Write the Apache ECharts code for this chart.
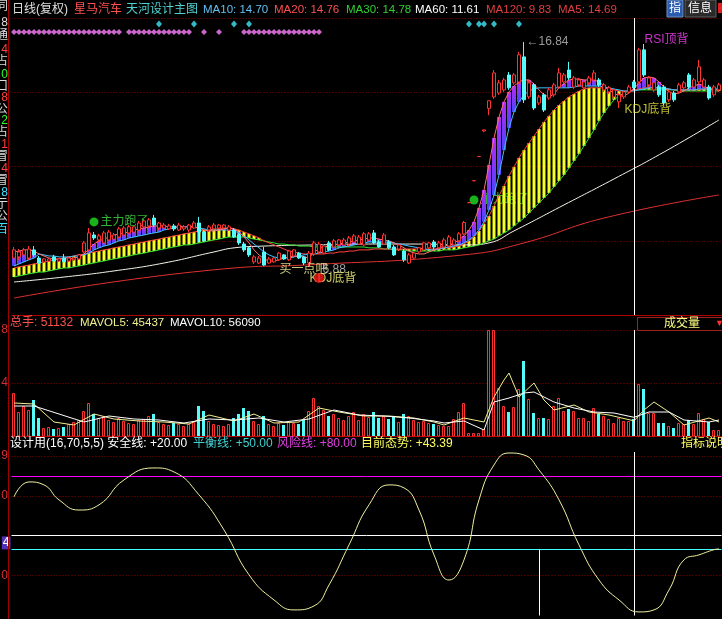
<!DOCTYPE html>
<html>
<head>
<meta charset="utf-8">
<script src="https://cdn.jsdelivr.net/npm/echarts@6/dist/echarts.min.js"></script>
<style>
html,body{margin:0;padding:0;background:#000;overflow:hidden;}
#chart{width:722px;height:619px;}
</style>
</head>
<body>
<div id="chart"></div>
<script>
// ================= DATA =================
const categories = Array.from({length: 142}, (_, i) => 'D' + (i + 1));

const openP = [7.28,7.33,7.42,7.28,7.64,7.28,7.11,7.15,7.33,7.15,
7.28,7.15,7.20,7.24,7.55,7.64,8.30,8.08,7.95,8.08,
8.12,8.21,8.30,8.39,8.43,8.52,8.66,8.70,9.05,8.61,
8.61,8.57,8.70,8.52,8.57,8.52,8.61,8.83,8.43,8.52,
8.57,8.61,8.61,8.52,8.52,8.30,7.90,7.73,7.11,7.06,
7.55,7.06,7.11,7.20,7.42,7.20,7.37,7.50,7.33,7.06,
7.46,7.55,7.50,7.95,7.77,7.86,7.86,7.90,7.99,7.90,
7.86,8.08,8.39,7.99,7.90,7.99,7.77,7.68,7.59,7.06,
7.28,7.55,7.64,7.73,7.99,7.73,7.77,7.81,7.86,8.04,
8.35,9.73,10.70,11.77,12.90,13.90,14.41,14.58,14.72,15.38,
15.03,15.07,16.18,14.41,14.94,14.14,14.50,14.36,14.50,14.85,
15.07,15.60,14.85,14.94,14.81,15.03,15.16,15.16,14.72,14.63,
14.41,14.19,14.41,14.63,15.07,15.07,16.49,14.94,14.72,14.85,
14.85,14.28,14.58,14.63,14.81,15.38,14.85,15.07,14.85,14.85,
14.50,14.72];
const closeP = [7.64,7.55,7.64,7.68,7.42,7.06,7.24,7.24,7.15,7.24,
7.11,7.28,7.28,7.42,7.95,8.39,8.17,8.26,8.39,8.43,
8.30,8.57,8.61,8.66,8.66,8.83,8.92,8.97,8.74,8.83,
8.74,8.70,8.57,8.74,8.66,8.74,8.83,8.43,8.04,8.66,
8.74,8.74,8.74,8.66,8.21,7.95,7.64,7.42,7.33,7.28,
6.97,7.24,7.28,7.50,7.24,7.59,7.64,7.28,7.06,7.50,
7.95,7.90,7.81,7.64,8.04,8.08,8.08,8.17,8.26,8.21,
8.35,8.35,7.95,7.77,8.30,7.73,7.42,7.86,7.20,7.42,
7.50,7.73,7.95,7.95,7.77,7.95,8.08,8.21,8.08,8.35,
8.85,9.73,10.70,11.77,12.95,14.24,15.47,15.03,15.16,14.81,
15.38,16.27,14.28,15.03,13.92,14.41,13.83,14.72,14.94,15.47,
15.38,15.25,15.25,15.16,15.07,15.25,15.47,14.94,14.94,14.81,
14.72,14.50,14.63,14.85,14.81,16.49,15.38,15.25,15.03,14.50,
14.14,14.63,14.28,14.94,15.03,14.85,15.16,15.74,15.16,14.36,
14.85,14.94];
const highP = [7.77,7.68,7.73,7.81,7.81,7.37,7.28,7.28,7.42,7.28,
7.46,7.33,7.33,7.46,8.04,8.61,8.43,8.35,8.48,8.52,
8.39,8.66,8.70,8.74,8.74,8.92,9.01,9.05,9.19,8.88,
8.83,8.79,8.79,8.83,8.74,8.79,8.92,9.10,8.52,8.74,
8.83,8.79,8.79,8.74,8.61,8.39,7.99,7.77,7.42,7.37,
7.77,7.33,7.33,7.55,7.46,7.64,7.68,7.55,7.37,7.59,
8.04,7.99,7.90,8.04,8.12,8.12,8.17,8.26,8.35,8.30,
8.43,8.43,8.52,8.08,8.39,8.08,7.86,7.90,7.68,7.50,
7.55,7.77,7.99,7.99,8.08,8.04,8.17,8.30,8.17,8.43,
8.92,9.73,10.70,11.77,12.95,14.24,15.60,15.16,15.25,15.51,
15.47,16.40,16.84,15.16,15.03,14.50,14.58,14.81,15.03,15.69,
15.47,15.96,15.34,15.25,15.16,15.34,15.60,15.25,15.03,14.89,
14.81,14.58,14.72,14.94,15.16,16.58,16.75,15.34,15.12,14.94,
14.94,14.72,14.67,15.03,15.12,15.47,15.25,16.05,15.25,14.94,
14.94,15.03];
const lowP = [7.11,7.20,7.33,7.20,7.33,7.02,7.06,7.11,7.06,7.11,
7.06,7.11,7.15,7.20,7.50,7.59,8.08,7.99,7.90,8.04,
8.08,8.17,8.26,8.35,8.39,8.48,8.61,8.61,8.66,8.52,
8.57,8.52,8.48,8.48,8.48,8.43,8.57,7.99,7.99,8.43,
8.52,8.57,8.57,8.48,8.17,7.86,7.55,7.33,7.02,7.02,
6.93,7.02,7.06,7.15,7.20,7.15,7.28,7.24,6.97,6.88,
7.37,7.46,7.46,7.59,7.73,7.81,7.81,7.81,7.95,7.86,
7.81,8.04,7.90,7.73,7.86,7.68,7.37,7.59,7.11,7.02,
7.24,7.50,7.59,7.68,7.68,7.68,7.73,7.77,7.81,7.99,
8.30,9.73,10.70,11.77,12.85,13.60,14.32,14.50,14.63,14.72,
14.94,14.98,14.14,14.32,13.83,14.05,13.74,14.28,14.41,14.76,
14.98,15.16,14.76,14.85,14.72,14.94,15.07,14.85,14.63,14.54,
14.32,13.92,14.32,14.54,14.72,14.98,15.29,14.85,14.63,14.41,
14.05,14.19,14.19,14.54,14.72,14.76,14.76,14.98,14.76,14.28,
14.41,14.63];

const ma5 = [7.55,7.59,7.64,7.64,7.59,7.46,7.37,7.28,7.24,7.24,
7.24,7.24,7.28,7.33,7.46,7.68,7.90,8.04,8.12,8.21,
8.30,8.35,8.39,8.43,8.52,8.57,8.61,8.66,8.70,8.70,
8.70,8.66,8.66,8.66,8.66,8.66,8.66,8.61,8.52,8.48,
8.48,8.52,8.57,8.61,8.57,8.43,8.21,7.95,7.64,7.42,
7.24,7.15,7.15,7.20,7.28,7.33,7.37,7.37,7.33,7.28,
7.55,7.68,7.77,7.81,7.86,7.90,7.95,7.99,8.04,8.08,
8.12,8.17,8.17,8.12,8.08,8.04,7.95,7.86,7.73,7.59,
7.50,7.46,7.46,7.55,7.64,7.73,7.81,7.86,7.95,8.08,
8.26,8.52,8.88,9.50,10.29,11.40,12.59,13.52,14.19,14.63,
14.89,15.07,15.16,15.16,14.98,14.72,14.50,14.41,14.54,14.81,
14.98,15.16,15.20,15.20,15.16,15.16,15.16,15.07,14.89,14.72,
14.58,14.45,14.45,14.58,14.76,15.03,15.25,15.29,15.25,15.07,
14.85,14.63,14.54,14.58,14.67,14.81,14.89,14.98,14.89,14.76,
14.72,14.72];
const ma10 = [6.93,7.02,7.11,7.20,7.28,7.46,7.42,7.37,7.37,7.33,
7.33,7.33,7.37,7.37,7.42,7.50,7.64,7.73,7.81,7.86,
7.95,8.04,8.08,8.17,8.21,8.26,8.30,8.35,8.39,8.43,
8.52,8.57,8.61,8.66,8.66,8.66,8.66,8.61,8.57,8.52,
8.52,8.52,8.52,8.52,8.48,8.39,8.26,8.08,7.90,7.73,
7.55,7.42,7.33,7.28,7.28,7.28,7.33,7.37,7.42,7.46,
7.46,7.50,7.55,7.59,7.64,7.73,7.77,7.81,7.86,7.90,
7.95,7.99,7.99,7.99,7.99,7.99,7.95,7.90,7.86,7.81,
7.77,7.73,7.68,7.64,7.64,7.68,7.73,7.77,7.81,7.86,
7.95,8.08,8.26,8.52,8.88,9.41,10.07,10.96,12.06,13.04,
13.74,14.19,14.50,14.67,14.76,14.81,14.81,14.81,14.81,14.81,
14.81,14.81,14.85,14.89,14.89,14.89,14.89,14.89,14.85,14.81,
14.76,14.72,14.67,14.67,14.67,14.72,14.76,14.81,14.81,14.81,
14.81,14.76,14.72,14.72,14.72,14.72,14.72,14.76,14.76,14.76,
14.76,14.76];
const ma20 = [6.84,6.89,6.93,6.97,7.02,7.06,7.11,7.15,7.20,7.24,
7.28,7.33,7.37,7.42,7.46,7.50,7.55,7.59,7.64,7.68,
7.73,7.77,7.81,7.86,7.90,7.95,7.99,8.04,8.08,8.12,
8.17,8.21,8.26,8.30,8.35,8.39,8.43,8.48,8.52,8.52,
8.57,8.57,8.61,8.61,8.57,8.52,8.43,8.35,8.26,8.17,
8.04,7.95,7.86,7.77,7.68,7.59,7.55,7.50,7.46,7.46,
7.46,7.46,7.46,7.50,7.50,7.55,7.55,7.59,7.59,7.64,
7.64,7.64,7.68,7.68,7.68,7.68,7.68,7.68,7.68,7.68,
7.68,7.68,7.68,7.68,7.68,7.68,7.73,7.73,7.77,7.81,
7.90,8.04,8.21,8.48,8.79,9.14,9.58,10.03,10.47,10.91,
11.31,11.71,12.06,12.37,12.68,12.99,13.30,13.57,13.83,14.05,
14.23,14.41,14.54,14.67,14.76,14.81,14.81,14.81,14.81,14.76,
14.72,14.67,14.67,14.67,14.72,14.76,14.81,14.81,14.81,14.81,
14.76,14.76,14.72,14.72,14.72,14.72,14.72,14.72,14.76,14.76,
14.76,14.76];
const ma30 = [6.44,6.49,6.53,6.58,6.62,6.66,6.66,6.71,6.75,6.80,
6.84,6.84,6.89,6.93,6.97,7.02,7.06,7.11,7.15,7.20,
7.24,7.28,7.33,7.37,7.42,7.46,7.50,7.55,7.59,7.64,
7.68,7.73,7.77,7.81,7.86,7.86,7.90,7.95,7.99,8.04,
8.08,8.12,8.17,8.21,8.21,8.21,8.21,8.17,8.12,8.08,
8.04,7.99,7.95,7.90,7.90,7.86,7.86,7.81,7.81,7.81,
7.77,7.77,7.77,7.77,7.77,7.77,7.77,7.77,7.77,7.77,
7.77,7.73,7.73,7.73,7.68,7.68,7.64,7.64,7.64,7.59,
7.59,7.59,7.59,7.59,7.59,7.59,7.64,7.64,7.64,7.68,
7.73,7.77,7.81,7.86,7.95,8.04,8.12,8.26,8.39,8.52,
8.70,8.88,9.05,9.27,9.50,9.72,9.94,10.16,10.43,10.69,
10.96,11.27,11.58,11.89,12.24,12.59,12.95,13.35,13.70,14.01,
14.28,14.45,14.58,14.67,14.72,14.72,14.72,14.72,14.72,14.72,
14.72,14.72,14.72,14.67,14.67,14.67,14.67,14.67,14.67,14.67,
14.67,14.67];
// sparse [dayIndex, value] readings
const ma60 = [[0,6.22],[10,6.44],[20,6.71],[30,7.06],[40,7.55],[44,7.73],[50,7.81],[60,7.86],[70,7.90],[80,7.90],[91,7.86],[95,7.95],[100,8.48],[110,9.63],[120,10.78],[130,11.97],[141,13.39]];
const ma120 = [[0,5.51],[44,6.84],[58,6.97],[90,7.42],[102,7.95],[118,9.05],[141,10.07]];

const volume = [129000,72000,90000,78000,108000,54000,24000,27000,21000,24000,
27000,36000,42000,48000,75000,99000,66000,54000,60000,48000,
42000,54000,45000,39000,36000,48000,51000,60000,66000,42000,
36000,33000,39000,36000,30000,36000,42000,90000,75000,45000,
36000,33000,30000,36000,54000,66000,84000,75000,45000,36000,
60000,36000,30000,39000,33000,42000,39000,36000,48000,75000,
114000,90000,78000,60000,66000,54000,48000,60000,72000,48000,
66000,57000,72000,54000,60000,51000,60000,42000,66000,60000,
48000,42000,45000,39000,36000,33000,30000,30000,51000,72000,
99000,9000,9000,9000,21000,320000,330000,144000,90000,72000,
87000,141000,225000,111000,69000,54000,54000,51000,90000,114000,
75000,81000,75000,54000,54000,45000,84000,66000,60000,51000,
39000,54000,45000,45000,51132,156000,141000,69000,69000,39000,
39000,30000,24000,39000,36000,48000,36000,69000,51000,42000,
18000,18000];
const mavol5 = [[0,99000],[4,96000],[8,42000],[12,33000],[16,66000],[20,51000],[25,45000],[30,42000],[35,36000],[39,63000],[44,45000],[48,66000],[52,39000],[57,42000],[61,84000],[65,72000],[70,60000],[75,60000],[80,54000],[84,42000],[86,33000],[90,54000],[94,42000],[96,117000],[98,168000],[99,189000],[101,117000],[104,159000],[106,108000],[108,78000],[112,93000],[115,72000],[119,63000],[124,45437],[126,78000],[128,102000],[131,72000],[134,33000],[139,54000],[141,42000]];
const mavol10 = [[0,90000],[4,90000],[9,66000],[14,42000],[19,60000],[24,51000],[29,48000],[34,39000],[39,51000],[44,48000],[49,54000],[54,42000],[59,51000],[64,78000],[69,63000],[74,60000],[79,54000],[84,45000],[86,39000],[90,45000],[94,18000],[96,102000],[99,114000],[102,129000],[104,132000],[108,102000],[112,84000],[116,72000],[120,69000],[124,56090],[127,72000],[131,72000],[134,48000],[139,42000],[141,48000]];

const osc = [[0,69.5],[3,77.0],[6,75.5],[9,68.0],[13,62.9],[17,65.5],[22,78.0],[28,84.0],[32,82.0],[37,70.5],[42,52.9],[47,30.4],[52,17.8],[56,12.8],[60,14.8],[63,25.3],[67,45.4],[71,65.5],[75,75.5],[78,74.0],[81,62.9],[84,40.4],[87,27.8],[90,37.9],[93,68.0],[96,85.5],[99,91.5],[102,90.5],[105,83.0],[109,68.0],[113,45.4],[117,27.8],[121,17.8],[125,11.8],[128,12.8],[131,22.8],[134,37.9],[137,40.4],[140,43.0],[141,43.39]];

// signal rows (day indexes)
const pinkSignals = [0,1,2,3,4,5,6,7,8,9,10,11,12,13,14,15,16,17,18,19,20,21,23,24,25,26,27,28,29,30,31,32,33,34,35,38,41,46,47,48,49,50,51,52,53,54,55,56,57,58,59,60,61];
const cyanSignals = [29,36,44,47,91,93,94,96,101];

// text annotations [dayIndex, price]
const runAwayPts = [[16, 8.88], [92, 9.85]];
const buyHintPt = [53, 6.75];
const lowPt = [59, 6.88];
const kdjLowPts = [[61, 6.40], [122, 13.83]];
const rsiTopPt = [126, 16.93];
const highPt = [102, 16.84];
const cursorDay = 124;
const oscStickDay = 105;

// header values
const headerMA = {MA10: '14.70', MA20: '14.76', MA30: '14.78', MA60: '11.61', MA120: '9.83', MA5: '14.69'};
const headerVol = {total: '51132', MAVOL5: '45437', MAVOL10: '56090'};
const oscLevels = {safe: 20, balance: 50, risk: 80, now: 43.39};

// axis tick labels (only the clipped glyph that is visible)
const volTickValues = [159000, 318000];
const volTickTexts = ['4', '8'];
const oscTickValues = [90, 70, 30];
const oscTickTexts = ['9', '0', '0'];
const leftStrip = [['同',7,'#dddddd'],['8',23,'#dddddd'],['通',36,'#dddddd'],['4',50,'#ff4040'],['占',62,'#dddddd'],['0',75,'#30ff30'],['口',87,'#dddddd'],['8',98,'#ff4040'],['公',110,'#dddddd'],['2',121,'#30ff30'],['占',133,'#dddddd'],['1',145,'#ff4040'],['冒',157,'#dddddd'],['4',169,'#ff4040'],['冒',181,'#dddddd'],['8',193,'#40e0ff'],['亍',205,'#dddddd'],['公',217,'#dddddd'],['百',230,'#40e0ff']];

// ================= CHART =================
const FONT = '"Liberation Sans","Noto Sans CJK SC",sans-serif';
const UP = '#ff3232', DOWN = '#54fcfc';
const chart = echarts.init(document.getElementById('chart'), null, {renderer: 'canvas', width: 722, height: 619});

function bandData(top, bot) {
  const out = [];
  top.forEach((t, i) => { if (t > bot[i]) out.push([i, t, bot[i]]); });
  return out;
}
function stripe(w, cTop, cBot) {
  return function (params, api) {
    const i = api.value(0);
    const a = api.coord([i, api.value(1)]);
    const b = api.coord([i, api.value(2)]);
    const h = b[1] - a[1];
    if (h < 0.6) return null;
    return {
      type: 'rect',
      shape: {x: a[0] - w / 2, y: a[1], width: w, height: h},
      style: {fill: new echarts.graphic.LinearGradient(0, 0, 0, 1, [{offset: 0, color: cTop}, {offset: 1, color: cBot}])}
    };
  };
}
function volumeBar(params, api) {
  const i = api.value(0);
  const top = api.coord([i, api.value(1)]);
  const base = api.coord([i, 0]);
  const cx = Math.round(top[0]);
  const yTop = Math.max(Math.round(top[1]), 330);
  if (closeP[i] >= openP[i]) {
    return {type: 'rect', shape: {x: cx - 1.5, y: yTop + 0.5, width: 2, height: base[1] - yTop - 0.5},
      style: {fill: '#000', stroke: UP, lineWidth: 1}};
  }
  return {type: 'rect', shape: {x: cx - 2, y: yTop, width: 3, height: base[1] - yTop}, style: {fill: DOWN}};
}
const hidden = {color: 'rgba(0,0,0,0)'};
function labelSeries(name, pts, text, color, labelExtra, seriesExtra) {
  return Object.assign({
    name: name, type: 'scatter', xAxisIndex: 0, yAxisIndex: 0, data: pts,
    symbol: 'circle', symbolSize: 1, itemStyle: hidden, silent: true, z: 8,
    label: Object.assign({show: true, position: 'right', distance: 0, formatter: text, color: color, fontSize: 12, fontFamily: FONT}, labelExtra || {})
  }, seriesExtra || {});
}
function line(name, data, color, xi, yi, extra) {
  return Object.assign({name: name, type: 'line', xAxisIndex: xi, yAxisIndex: yi, data: data, showSymbol: false, symbol: 'none',
    lineStyle: {color: color, width: 1}, silent: true, z: 4}, extra || {});
}
const dotted = {color: '#8a0000', type: [1, 2], width: 1};

const option = {
  backgroundColor: '#000',
  animation: false,
  textStyle: {fontFamily: FONT},
  grid: [
    {left: 11.5, width: 710, top: 18, height: 297, outerBoundsMode: 'none'},
    {left: 11.5, width: 710, top: 330, height: 106, outerBoundsMode: 'none'},
    {left: 11.5, width: 710, top: 452, height: 163.5, outerBoundsMode: 'none'}
  ],
  xAxis: [0, 1, 2].map(g => ({
    type: 'category', gridIndex: g, data: categories, boundaryGap: true,
    axisLine: {show: g < 2, lineStyle: {color: '#b00000', width: 1}},
    axisTick: {show: false}, axisLabel: {show: false}, splitLine: {show: false}
  })),
  yAxis: [
    {gridIndex: 0, type: 'value', min: 4.76, max: 17.90, show: false},
    {gridIndex: 0, type: 'value', min: 0, max: 4, interval: 1, axisLine: {show: false}, axisTick: {show: false},
      axisLabel: {show: false}, splitLine: {show: true, lineStyle: dotted}},
    {gridIndex: 1, type: 'value', min: 0, max: 318000, interval: 159000, axisLine: {show: false}, axisTick: {show: false},
      splitLine: {show: true, lineStyle: dotted},
      axisLabel: {show: true, margin: 3.5, color: '#d03030', fontSize: 12,
        formatter: v => { const k = volTickValues.indexOf(v); return k >= 0 ? volTickTexts[k] : ''; }}},
    {gridIndex: 2, type: 'value', min: 10, max: 92, axisLine: {show: false}, axisTick: {show: false},
      splitLine: {show: false},
      axisLabel: {show: true, margin: 3.5, color: '#d03030', fontSize: 12, customValues: oscTickValues,
        formatter: v => { const k = oscTickValues.indexOf(v); return k >= 0 ? oscTickTexts[k] : ''; }}}
  ],
  series: [
    {name: 'band1', type: 'custom', xAxisIndex: 0, yAxisIndex: 0, data: bandData(ma20, ma30),
      renderItem: stripe(3, '#ffff10', '#f0ff30'), silent: true, z: 2, encode: {x: 0, y: [1, 2]}},
    {name: 'band2', type: 'custom', xAxisIndex: 0, yAxisIndex: 0, data: bandData(ma5, ma10),
      renderItem: stripe(4, '#b42cf0', '#4646ff'), silent: true, z: 2, encode: {x: 0, y: [1, 2]}},
    labelSeries('runAway', runAwayPts, '主力跑了', '#40e040', {distance: 2}, {symbolSize: 9, itemStyle: {color: '#20e020'}, z: 1}),
    line('MA120', ma120, '#e03030', 0, 0, {smooth: true}),
    line('MA60', ma60, '#f4f4e8', 0, 0, {smooth: true}),
    line('MA30', ma30, '#30e030', 0, 0),
    line('MA20', ma20, '#ff4040', 0, 0),
    line('MA10', ma10, '#40c0ff', 0, 0),
    line('MA5', ma5, '#ff7070', 0, 0),
    {name: 'K', type: 'candlestick', xAxisIndex: 0, yAxisIndex: 0, barWidth: 3, z: 5, silent: true,
      data: categories.map((_, i) => [openP[i], closeP[i], lowP[i], highP[i]]),
      itemStyle: {color: '#000', color0: DOWN, borderColor: UP, borderColor0: DOWN, borderWidth: 1},
      markLine: {silent: true, symbol: ['none', 'none'], label: {show: false},
        lineStyle: {color: '#ffffff', type: 'solid', width: 1}, data: [{xAxis: categories[cursorDay]}]}},
    {name: 'sigPink', type: 'scatter', xAxisIndex: 0, yAxisIndex: 1, symbol: 'diamond', symbolSize: [6, 6], silent: true, z: 6,
      itemStyle: {color: '#ff80ff'}, data: pinkSignals.map(i => [i, 3.811])},
    {name: 'sigCyan', type: 'scatter', xAxisIndex: 0, yAxisIndex: 1, symbol: 'diamond', symbolSize: [6, 7], silent: true, z: 6,
      itemStyle: {color: '#40e8f8'}, data: cyanSignals.map(i => [i, 3.919])},
    labelSeries('buy', [buyHintPt], '买一点吧', '#ffffa0'),
    labelSeries('low', [lowPt], lowPt[1].toFixed(2), '#c8c8c8', {distance: 13, offset: [0, 3]}),
    labelSeries('kdj1', [kdjLowPts[0]], 'KDJ底背', '#ffff80', {offset: [-10, 1]}),
    {name: 'kdjDot', type: 'scatter', xAxisIndex: 0, yAxisIndex: 0, data: [kdjLowPts[0]], symbol: 'circle', symbolSize: 10,
      itemStyle: {color: '#ff1818'}, silent: true, z: 9},
    labelSeries('kdj2', [kdjLowPts[1]], 'KDJ底背', '#e8e840'),
    labelSeries('rsi', [rsiTopPt], 'RSI顶背', '#ff40ff'),
    labelSeries('max', [highPt], '←' + highPt[1].toFixed(2), '#c0c0c0', {distance: 2}),
    {name: 'VOL', type: 'custom', xAxisIndex: 1, yAxisIndex: 2, silent: true, z: 3, renderItem: volumeBar,
      encode: {x: 0, y: 1}, data: volume.map((v, i) => [i, v]),
      markLine: {silent: true, symbol: ['none', 'none'], label: {show: false},
        lineStyle: {color: '#ffffff', type: 'solid', width: 1}, data: [{xAxis: categories[cursorDay]}]}},
    line('MAVOL5', mavol5, '#f0f090', 1, 2),
    line('MAVOL10', mavol10, '#ffffff', 1, 2),
    line('OSC', osc, '#f0f0a0', 2, 3, {smooth: true, z: 5,
      markLine: {silent: true, symbol: ['none', 'none'], label: {show: false}, data: [
        {yAxis: 90, lineStyle: dotted}, {yAxis: 70, lineStyle: dotted}, {yAxis: 30, lineStyle: dotted},
        {yAxis: oscLevels.risk, lineStyle: {color: '#ff00ff', type: 'solid', width: 1}},
        {yAxis: oscLevels.balance, lineStyle: {color: '#ffffff', type: 'solid', width: 1}},
        {yAxis: oscLevels.now, lineStyle: {color: '#40ffff', type: 'solid', width: 1},
          label: {show: true, position: 'start', distance: 1, offset: [0, -6], formatter: String(oscLevels.now)[0], color: '#fff',
            backgroundColor: '#5030b8', padding: [1, 1, 0, 1], fontSize: 12}},
        {xAxis: categories[cursorDay], lineStyle: {color: '#ffffff', type: 'solid', width: 1}},
        [{coord: [categories[oscStickDay], oscLevels.now], lineStyle: {color: '#ffffff', type: 'solid', width: 1}},
         {coord: [categories[oscStickDay], 10]}]
      ]}})
  ],
  graphic: []
};

const HF = '11.5px ' + FONT;
const T = (text, x, y, fill, font, align) => ({type: 'text', x: x, y: y, silent: true, z: 100,
  style: {text: text, fill: fill, font: font || ('12px ' + FONT), align: align || 'left', verticalAlign: 'middle'}});
const g = option.graphic;
g.push({type: 'line', silent: true, z: 90, shape: {x1: 8.5, y1: 0, x2: 8.5, y2: 619}, style: {stroke: '#a00000', lineWidth: 1}});
g.push(T('日线(复权)', 12, 10, '#e0e0e0'));
g.push(T('星马汽车', 74, 10, '#ff5050'));
g.push(T('天河设计主图', 126, 10, '#50d0d0'));
g.push(T('MA10: ' + headerMA.MA10, 203, 10, '#60c0f0', HF));
g.push(T('MA20: ' + headerMA.MA20, 274, 10, '#ff5050', HF));
g.push(T('MA30: ' + headerMA.MA30, 346, 10, '#30d030', HF));
g.push(T('MA60: ' + headerMA.MA60, 415, 10, '#ffffff', HF));
g.push(T('MA120: ' + headerMA.MA120, 486, 10, '#e04040', HF));
g.push(T('MA5: ' + headerMA.MA5, 558, 10, '#e04040', HF));
g.push({type: 'rect', silent: true, z: 99, shape: {x: 667, y: 0, width: 16, height: 17}, style: {fill: '#2a5cb0', stroke: '#7090c0'}});
g.push(T('指', 669, 9, '#ffffff'));
g.push({type: 'rect', silent: true, z: 99, shape: {x: 685, y: 0, width: 31, height: 17}, style: {fill: '#2a2a2a', stroke: '#606060'}});
g.push(T('信息', 688, 9, '#ffffff'));
g.push({type: 'rect', silent: true, z: 99, shape: {x: 718, y: 3, width: 4, height: 10}, style: {fill: '#e02020'}});
g.push(T('总手: ' + headerVol.total, 10, 323, '#ff5050'));
g.push(T('MAVOL5: ' + headerVol.MAVOL5, 80, 323, '#f0f090', HF));
g.push(T('MAVOL10: ' + headerVol.MAVOL10, 170, 323, '#ffffff', HF));
g.push({type: 'rect', silent: true, z: 99, shape: {x: 637.5, y: 317.5, width: 90, height: 13}, style: {fill: '#000', stroke: '#a02020'}});
g.push(T('成交量', 664, 324, '#ffff80'));
g.push(T('▼', 715, 324, '#ff3030', '9px ' + FONT));
g.push(T('设计用(16,70,5,5) 安全线: +' + oscLevels.safe.toFixed(2), 10, 444, '#ffffff'));
g.push(T('平衡线: +' + oscLevels.balance.toFixed(2), 193, 444, '#40d0d0'));
g.push(T('风险线: +' + oscLevels.risk.toFixed(2), 277, 444, '#e040e0'));
g.push(T('目前态势: +' + oscLevels.now.toFixed(2), 361, 444, '#ffff60'));
g.push(T('指标说明', 681, 444, '#ffff60'));
leftStrip.forEach(([t, y, c]) => g.push(T(t, 8, y, c, null, 'right')));

chart.setOption(option);
</script>
</body>
</html>
